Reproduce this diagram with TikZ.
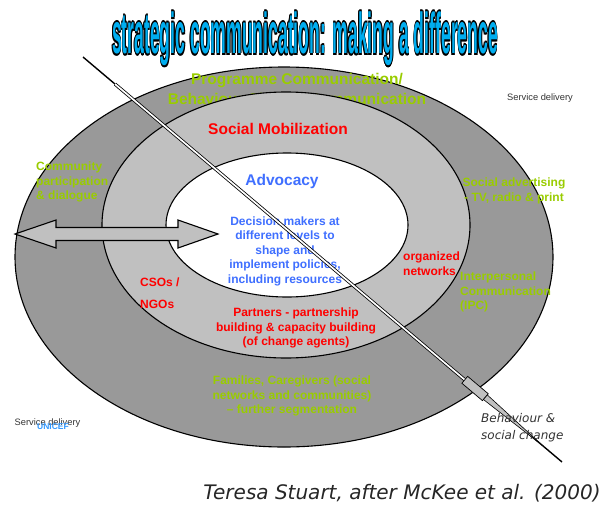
\documentclass[tikz,border=0pt]{standalone}
\usepackage{fontspec}
\setmainfont{Liberation Sans}
\newfontfamily\capfont{DejaVu Sans}
\usepackage{contour}
\usetikzlibrary{calc}
\definecolor{ringdark}{HTML}{999999}
\definecolor{ringlight}{HTML}{C0C0C0}
\definecolor{pgreen}{HTML}{99CC00}
\definecolor{pred}{HTML}{FF0000}
\definecolor{pblue}{HTML}{3F6FFF}
\definecolor{ublue}{HTML}{3399FF}
\definecolor{notegray}{HTML}{333333}
\contourlength{0.35pt}
\contournumber{8}

\begin{document}
\begin{tikzpicture}[x=1pt,y=-1pt,
  ring/.style={draw=black,line width=1.1pt},
  big/.style={font=\bfseries\fontsize{15.5}{20}\selectfont,inner sep=0pt,align=center},
  small/.style={font=\bfseries\fontsize{12}{14.5}\selectfont,inner sep=0pt},
  note/.style={font=\fontsize{9.3}{11}\selectfont,text=notegray,inner sep=0pt}]
\useasboundingbox (0,0) rectangle (608,504);

% title
\node[inner sep=0pt] (title) at (305,40)
  {\resizebox*{386pt}{56pt}{\contour{black}{\textcolor{cyan}{\bfseries strategic communication: making a difference}}}};

% rings
\draw[ring,fill=ringdark] (284,257) ellipse [x radius=269,y radius=190];
\node[big,text=pgreen] (prog) at (297,91) {Programme Communication/\\Behaviour Change Communication};
\draw[ring,fill=ringlight] (286,225) ellipse [x radius=184,y radius=133];
\draw[ring,fill=white] (287,225) ellipse [x radius=121,y radius=72];

% inner ring
\node[big,text=pblue] (advocacy) at (282,181) {Advocacy};
\node[small,text=pblue,align=center] (decision) at (285,251)
  {Decision makers at\\different levels to\\shape and\\implement policies,\\including resources};

% middle ring
\node[big,text=pred] (socmob) at (278,129) {Social Mobilization};
\node[small,text=pred,align=left,anchor=west,font=\bfseries\fontsize{12}{22}\selectfont] (cso) at (140,293) {CSOs /\\NGOs};
\node[small,text=pred,align=left,anchor=west] (organized) at (403,263.5) {organized\\networks};
\node[small,text=pred,align=center] (partners) at (296,328)
  {Partners - partnership\\building \& capacity building\\(of change agents)};

% outer ring
\node[small,text=pgreen,align=left,anchor=west] (community) at (36,182) {Community\\participation\\\& dialogue};
\node[small,text=pgreen,align=center] (socadv) at (514,191) {Social advertising\\- TV, radio \& print};
\node[small,text=pgreen,align=left,anchor=west] (ipc) at (460,292) {Interpersonal\\Communication\\(IPC)};
\node[small,text=pgreen,align=center] (families) at (292,396)
  {Families, Caregivers (social\\networks and communities)\\-- further segmentation};

% notes
\node[note] (serviceA) at (540,98) {Service delivery};
\node[note] (serviceB) at (47.5,423) {Service delivery};
\node[inner sep=0pt,text=ublue,font=\bfseries\fontsize{8.5}{10}\selectfont] (unicef) at (53,427) {UNICEF};

% double arrow
\draw[line width=1.1pt,fill=ringlight,line join=miter]
  (15,234) -- (56,220) -- (56,227.5) -- (178,227.5) -- (178,220) -- (218,234)
  -- (178,248) -- (178,240.5) -- (56,240.5) -- (56,248) -- cycle;

% needle
\coordinate (nstart) at (83,57);
\coordinate (nend) at (562,462);
\draw[line width=1.4pt] (nstart) -- (nend);
\draw[line width=0.8pt,double=white,double distance=1.7pt]
  ($(nstart)!0.067!(nend)$) -- ($(nstart)!0.797!(nend)$);
\draw[fill=ringlight,line width=0.7pt]
  ($(nstart)!0.797!(nend)!4.5pt!90:(nend)$) -- ($(nstart)!0.797!(nend)!4.5pt!-90:(nend)$)
  -- ($(nstart)!0.84!(nend)!4.5pt!-90:(nend)$) -- ($(nstart)!0.84!(nend)!4.5pt!90:(nend)$) -- cycle;
\draw[fill=ringlight,line width=0.6pt]
  ($(nstart)!0.84!(nend)!3pt!90:(nend)$) -- ($(nstart)!0.96!(nend)$)
  -- ($(nstart)!0.84!(nend)!3pt!-90:(nend)$) -- cycle;

\node[inner sep=0pt,align=left,anchor=west,text=notegray,font=\capfont\itshape\fontsize{12}{17}\selectfont] (behaviour) at (481,427.5)
  {Behaviour \&\\social change};
\node[inner sep=0pt,text=black!85,font=\capfont\itshape\fontsize{20}{23}\selectfont] (caption) at (402,493)
  {Teresa Stuart, after McKee et al. (2000)};
\end{tikzpicture}
\end{document}
